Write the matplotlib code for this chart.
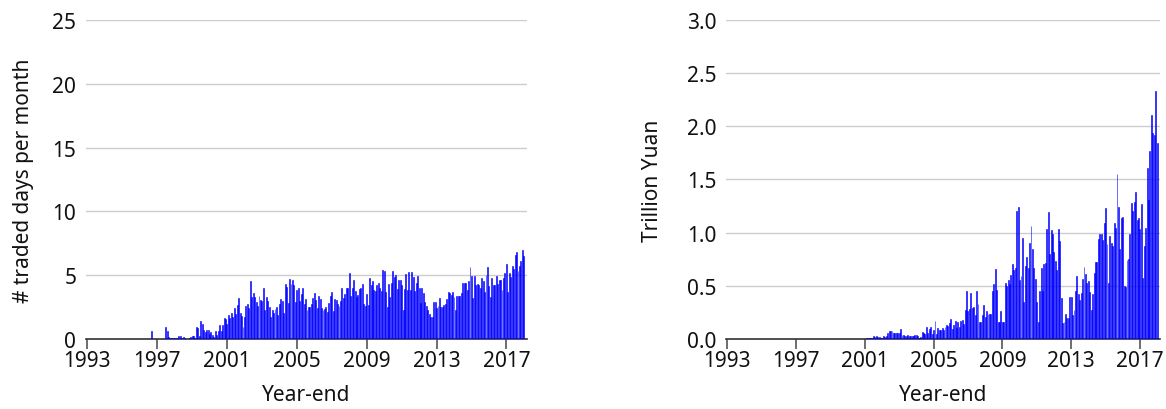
import matplotlib
matplotlib.use("Agg")
import matplotlib.pyplot as plt
import numpy as np

plt.rcParams["font.family"] = ["Noto Sans", "DejaVu Sans"]

start_year = 1993
# monthly values, Jan 1993 .. Dec 2017, one row per year
traded_days = [
    0, 0, 0, 0, 0, 0, 0, 0, 0, 0, 0, 0,                              # 1993
    0, 0, 0, 0, 0, 0, 0, 0, 0, 0, 0, 0,                              # 1994
    0, 0, 0, 0, 0, 0, 0, 0, 0, 0, 0, 0,                              # 1995
    0, 0, 0, 0, 0, 0, 0, 0.58, 0, 0, 0, 0,                           # 1996
    0, 0, 0, 0, 0, 0.97, 0.58, 0.16, 0.1, 0.05, 0.05, 0.08,          # 1997
    0.08, 0, 0.24, 0.24, 0.1, 0.18, 0.05, 0, 0, 0.05, 0.13, 0.26,    # 1998
    0.26, 0.1, 0.92, 0.84, 0.26, 1.37, 1.13, 0.68, 0.53, 0.66, 0.66, 0.4,  # 1999
    0.53, 0.34, 0.13, 0.63, 0.34, 0.58, 1.05, 0.6, 1.1, 1.66, 1.53, 1.13,  # 2000
    1.87, 1.66, 2.05, 1.71, 2.4, 1.97, 2.66, 3.24, 2.05, 1.8, 0.95, 1.7,   # 2001
    2.6, 2.75, 2.4, 4.5, 3.25, 3.6, 3.25, 2.9, 2.55, 3.4, 3.05, 3.0,       # 2002
    4.0, 2.3, 3.3, 3.0, 2.5, 1.7, 2.3, 2.0, 2.35, 2.5, 1.85, 2.7,          # 2003
    3.1, 3.0, 2.0, 4.3, 4.1, 2.8, 4.7, 4.3, 4.65, 4.25, 2.9, 3.8,          # 2004
    4.0, 3.0, 3.5, 4.0, 2.7, 3.15, 2.3, 2.5, 2.5, 2.75, 3.2, 3.6,          # 2005
    3.05, 2.4, 3.4, 3.15, 2.45, 2.25, 2.35, 2.5, 2.1, 2.8, 3.4, 3.65,      # 2006
    2.15, 3.15, 3.05, 2.75, 2.6, 2.95, 3.95, 3.2, 3.5, 3.95, 3.95, 5.2,    # 2007
    3.4, 4.0, 4.6, 3.75, 3.25, 3.45, 3.9, 4.0, 4.3, 2.7, 2.6, 3.55,        # 2008
    2.65, 4.75, 4.25, 4.55, 3.85, 3.75, 4.2, 4.35, 4.0, 3.75, 5.4, 5.3,    # 2009
    3.65, 2.5, 4.3, 3.25, 4.4, 5.35, 4.85, 5.0, 3.9, 4.6, 4.6, 4.2,        # 2010
    2.25, 3.9, 5.1, 3.85, 5.25, 3.85, 5.25, 4.85, 3.75, 4.35, 4.9, 4.0,    # 2011
    2.85, 4.0, 3.6, 2.9, 2.6, 2.25, 1.95, 1.75, 1.7, 2.9, 2.9, 2.4,        # 2012
    2.55, 3.2, 2.5, 2.5, 2.65, 2.7, 3.1, 3.7, 3.6, 3.45, 3.7, 3.3,         # 2013
    2.25, 3.4, 3.4, 3.35, 3.6, 4.4, 4.4, 4.4, 3.85, 4.5, 5.6, 4.9,         # 2014
    3.2, 4.9, 4.2, 4.3, 4.2, 3.95, 4.75, 4.5, 3.7, 5.0, 5.6, 4.15,         # 2015
    3.3, 4.8, 4.2, 4.2, 4.9, 4.3, 4.6, 4.6, 3.8, 4.8, 5.2, 5.85,           # 2016
    3.7, 5.15, 4.85, 5.75, 5.45, 6.6, 6.8, 5.35, 5.7, 6.1, 7.0, 6.5,       # 2017
]

turnover = [
    0, 0, 0, 0, 0, 0, 0, 0, 0, 0, 0, 0,                              # 1993
    0, 0, 0, 0, 0, 0, 0, 0, 0, 0, 0, 0,                              # 1994
    0, 0, 0, 0, 0, 0, 0, 0, 0, 0, 0, 0,                              # 1995
    0, 0, 0, 0, 0, 0, 0, 0, 0, 0, 0, 0,                              # 1996
    0, 0, 0, 0, 0, 0, 0, 0, 0, 0, 0, 0,                              # 1997
    0, 0, 0, 0, 0, 0, 0, 0, 0, 0, 0, 0,                              # 1998
    0, 0, 0, 0, 0, 0, 0, 0, 0, 0, 0, 0,                              # 1999
    0, 0, 0, 0, 0, 0, 0, 0, 0, 0, 0, 0,                              # 2000
    0.01, 0.01, 0.005, 0.005, 0.01, 0.025, 0.02, 0.025, 0.02, 0.02, 0.01, 0.005,      # 2001
    0.03, 0.02, 0.03, 0.06, 0.07, 0.075, 0.07, 0.06, 0.06, 0.06, 0.055, 0.055,        # 2002
    0.095, 0.035, 0.035, 0.03, 0.025, 0.035, 0.03, 0.025, 0.03, 0.03, 0.04, 0.04,     # 2003
    0.03, 0.005, 0.02, 0.066, 0.053, 0.05, 0.11, 0.06, 0.09, 0.11, 0.05, 0.085,       # 2004
    0.17, 0.05, 0.1, 0.08, 0.08, 0.1, 0.085, 0.11, 0.126, 0.117, 0.148, 0.19,         # 2005
    0.09, 0.13, 0.17, 0.1, 0.16, 0.11, 0.17, 0.18, 0.14, 0.27, 0.45, 0.26,            # 2006
    0.28, 0.43, 0.29, 0.3, 0.22, 0.45, 0.33, 0.16, 0.16, 0.22, 0.32, 0.21,            # 2007
    0.26, 0.23, 0.23, 0.23, 0.45, 0.52, 0.66, 0.46, 0.16, 0.16, 0.26, 0.16,           # 2008
    0.16, 0.53, 0.5, 0.55, 0.52, 0.6, 0.7, 0.65, 0.67, 1.2, 1.24, 0.55,               # 2009
    0.59, 0.95, 0.35, 0.69, 0.77, 0.67, 0.9, 1.06, 0.85, 0.67, 0.56, 0.35,            # 2010
    0.16, 0.45, 0.67, 0.45, 0.7, 0.71, 1.03, 1.19, 0.8, 1.02, 0.99, 0.82,             # 2011
    0.73, 0.65, 1.03, 0.92, 0.38, 0.15, 0.16, 0.23, 0.2, 0.2, 0.39, 0.39,             # 2012
    0.22, 0.27, 0.45, 0.59, 0.42, 0.37, 0.43, 0.56, 0.68, 0.61, 0.53, 0.54,           # 2013
    0.44, 0.27, 0.42, 0.62, 0.72, 0.72, 0.94, 0.99, 0.99, 0.93, 1.09, 1.23,           # 2014
    0.89, 0.53, 0.97, 0.9, 0.87, 1.09, 1.04, 1.55, 1.24, 0.85, 1.14, 1.15,            # 2015
    0.5, 0.49, 0.74, 0.75, 0.99, 1.28, 1.2, 1.29, 1.38, 1.12, 1.14, 1.03,             # 2016
    1.27, 0.57, 0.87, 1.04, 1.61, 1.31, 1.77, 2.11, 1.94, 1.92, 2.33, 1.84,           # 2017
]

year_ticks = [1993, 1997, 2001, 2005, 2009, 2013, 2017]
left_ylabel = "# traded days per month"
right_ylabel = "Trillion Yuan"
xlabel = "Year-end"

FS = 15


def style_axis(ax, ymax, ystep, fmt):
    ax.set_xlim(1992.93, 2018.17)
    ax.set_ylim(0, ymax)
    yt = np.arange(0, ymax + ystep / 2, ystep)
    ax.set_yticks(yt)
    ax.set_yticklabels([fmt.format(v) for v in yt])
    ax.set_xticks(year_ticks)
    ax.set_xticklabels([str(y) for y in year_ticks])
    ax.grid(axis="y", color="#cccccc", linewidth=1.0)
    ax.set_axisbelow(True)
    for side in ("top", "right", "left"):
        ax.spines[side].set_visible(False)
    ax.spines["bottom"].set_color("#333333")
    ax.spines["bottom"].set_linewidth(1.2)
    ax.tick_params(axis="y", length=0, pad=7, labelsize=FS, labelcolor="#111111")
    ax.tick_params(axis="x", length=7, width=1.2, color="#555555", pad=1,
                   labelsize=FS, labelcolor="#111111")
    ax.set_xlabel(xlabel, fontsize=FS, color="#111111")
    ax.xaxis.set_label_coords(0.5, -0.14)


def main():
    months = np.arange(len(traded_days))
    x = start_year + (months + 1) / 12.0
    w = 0.65 / 12.0

    fig = plt.figure(figsize=(11.66, 4.10), dpi=100)
    ax1 = fig.add_axes([0.0738, 0.171, 0.378, 0.778])
    ax2 = fig.add_axes([0.6226, 0.171, 0.3723, 0.778])

    ax1.bar(x, traded_days, width=w, color="#0000ff", edgecolor="#0000ff",
            linewidth=0.4, zorder=3)
    style_axis(ax1, 25, 5, "{:.0f}")
    ax1.set_ylabel(left_ylabel, fontsize=FS, color="#111111")
    ax1.yaxis.set_label_coords(-0.118, 0.5)

    ax2.bar(x, turnover, width=w, color="#0000ff", edgecolor="#0000ff",
            linewidth=0.4, zorder=3)
    style_axis(ax2, 3.0, 0.5, "{:.1f}")
    ax2.set_ylabel(right_ylabel, fontsize=FS, color="#111111")
    ax2.yaxis.set_label_coords(-0.145, 0.5)

    fig.savefig("out.png", dpi=100)


if __name__ == "__main__":
    main()
